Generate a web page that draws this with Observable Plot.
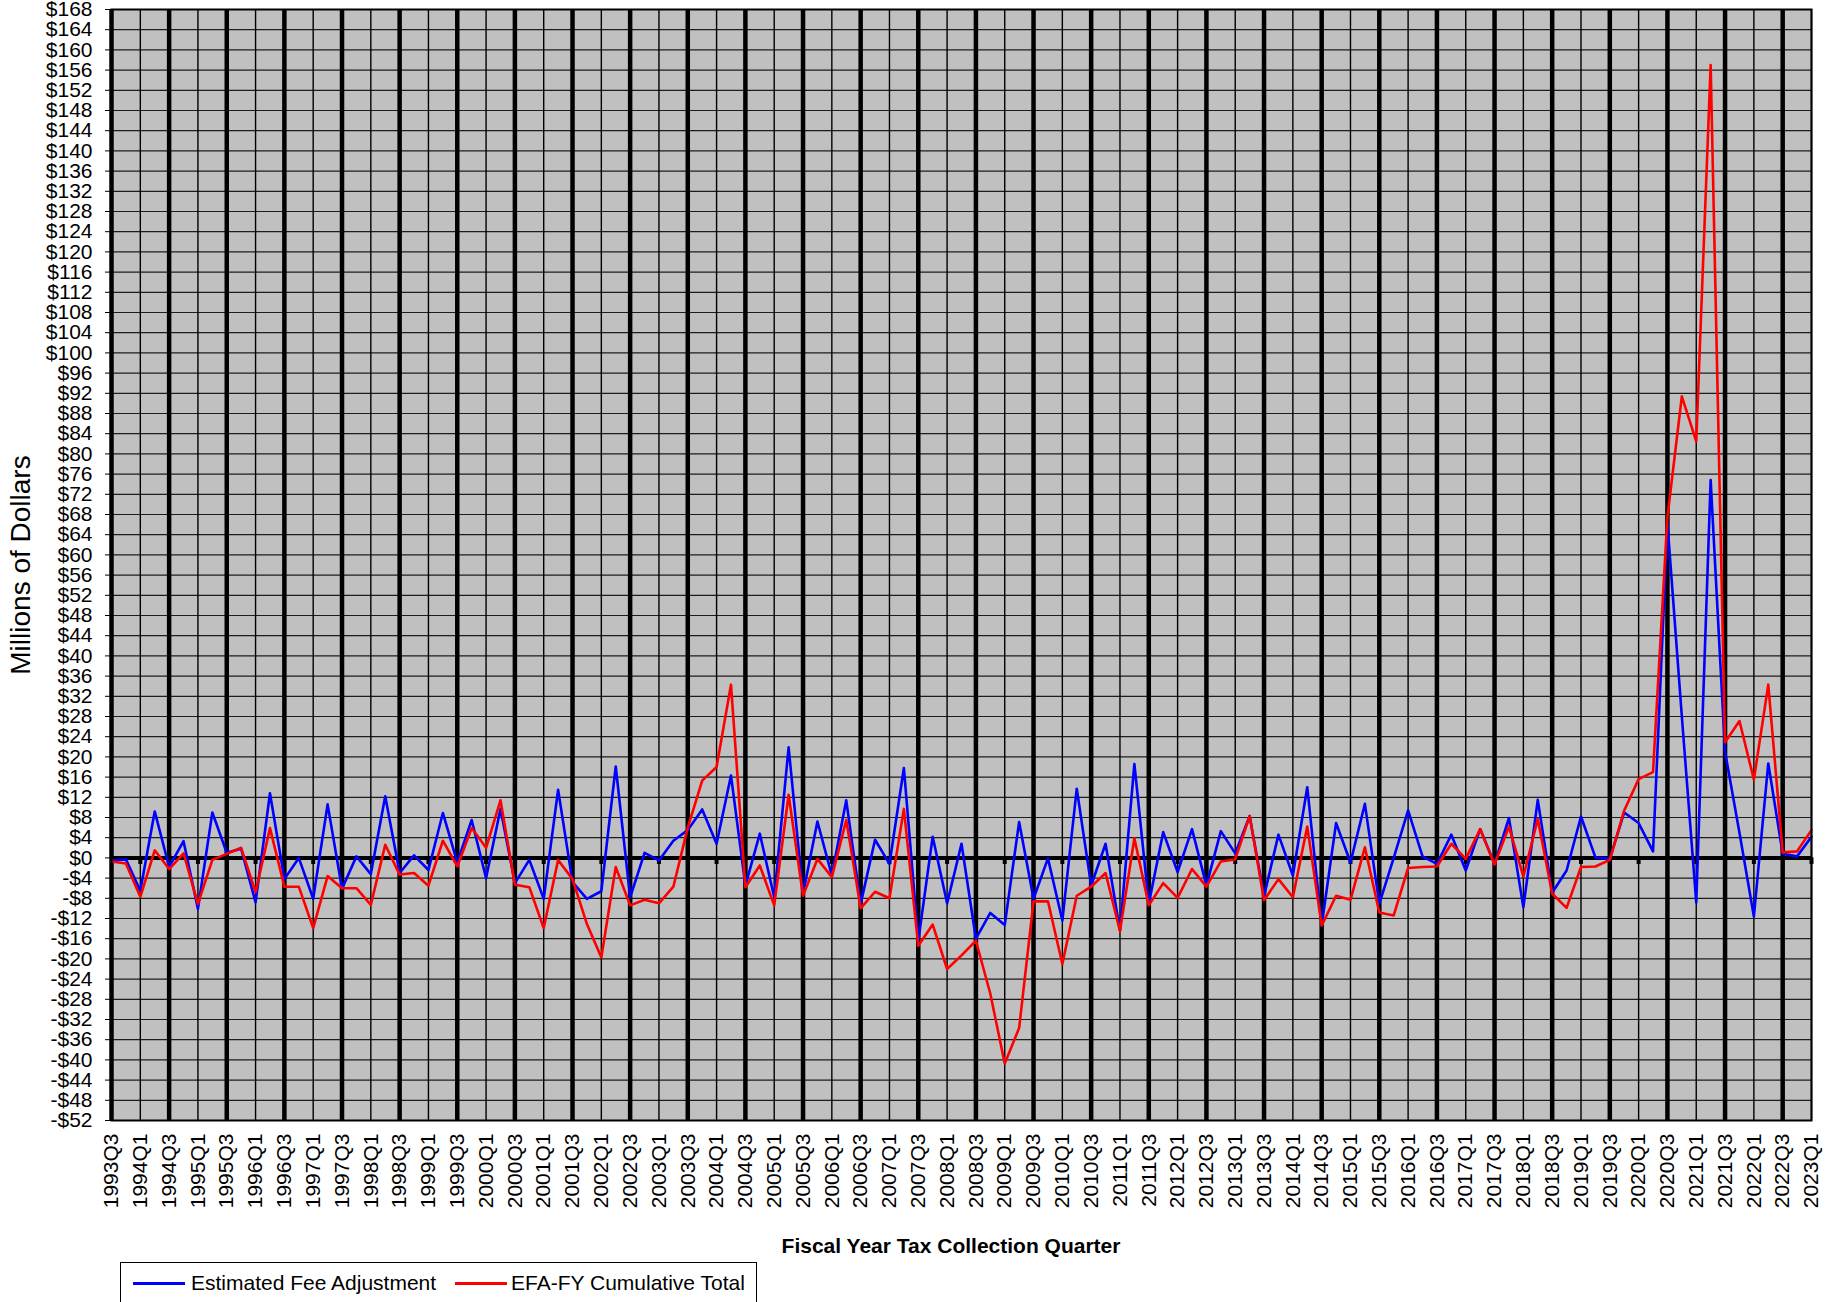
<!DOCTYPE html>
<html>
<head>
<meta charset="utf-8">
<script src="https://cdn.jsdelivr.net/npm/d3@7"></script>
<script src="https://cdn.jsdelivr.net/npm/@observablehq/plot@0.6"></script>
<style>
  body { margin: 0; background: #fff; font-family: "Liberation Sans", Arial, sans-serif; }
  #wrap { position: relative; width: 1841px; height: 1302px; overflow: hidden; background: #fff; }
  #chart { position: absolute; left: 0; top: 0; }
  #xtitle { position: absolute; left: 0; width: 1902px; top: 1233px; line-height: 26px; text-align: center; font-weight: bold; font-size: 21px; color: #000; }
  #legend { position: absolute; left: 120px; top: 1262px; width: 637px; height: 50px; box-sizing: border-box; border: 1px solid #000; background: #fff; }
  .sw { position: absolute; top: 19px; width: 52px; height: 3px; }
  .lt { position: absolute; top: 7px; font-size: 21px; line-height: 26px; color: #000; white-space: nowrap; }
</style>
</head>
<body>
<div id="wrap">
  <div id="chart"></div>
  <div id="xtitle">Fiscal Year Tax Collection Quarter</div>
  <div id="legend">
    <div class="sw" style="left:12px;background:#0000ff"></div>
    <div class="lt" style="left:70px">Estimated Fee Adjustment</div>
    <div class="sw" style="left:334px;background:#ff0000"></div>
    <div class="lt" style="left:390px">EFA-FY Cumulative Total</div>
  </div>
</div>
<script>
const quarters = [
  "1993Q3","1993Q4",
  "1994Q1","1994Q2","1994Q3","1994Q4",
  "1995Q1","1995Q2","1995Q3","1995Q4",
  "1996Q1","1996Q2","1996Q3","1996Q4",
  "1997Q1","1997Q2","1997Q3","1997Q4",
  "1998Q1","1998Q2","1998Q3","1998Q4",
  "1999Q1","1999Q2","1999Q3","1999Q4",
  "2000Q1","2000Q2","2000Q3","2000Q4",
  "2001Q1","2001Q2","2001Q3","2001Q4",
  "2002Q1","2002Q2","2002Q3","2002Q4",
  "2003Q1","2003Q2","2003Q3","2003Q4",
  "2004Q1","2004Q2","2004Q3","2004Q4",
  "2005Q1","2005Q2","2005Q3","2005Q4",
  "2006Q1","2006Q2","2006Q3","2006Q4",
  "2007Q1","2007Q2","2007Q3","2007Q4",
  "2008Q1","2008Q2","2008Q3","2008Q4",
  "2009Q1","2009Q2","2009Q3","2009Q4",
  "2010Q1","2010Q2","2010Q3","2010Q4",
  "2011Q1","2011Q2","2011Q3","2011Q4",
  "2012Q1","2012Q2","2012Q3","2012Q4",
  "2013Q1","2013Q2","2013Q3","2013Q4",
  "2014Q1","2014Q2","2014Q3","2014Q4",
  "2015Q1","2015Q2","2015Q3","2015Q4",
  "2016Q1","2016Q2","2016Q3","2016Q4",
  "2017Q1","2017Q2","2017Q3","2017Q4",
  "2018Q1","2018Q2","2018Q3","2018Q4",
  "2019Q1","2019Q2","2019Q3","2019Q4",
  "2020Q1","2020Q2","2020Q3","2020Q4",
  "2021Q1","2021Q2","2021Q3","2021Q4",
  "2022Q1","2022Q2","2022Q3","2022Q4",
  "2023Q1"
];

// Estimated Fee Adjustment (millions of dollars)
const estimatedFeeAdjustment = [
  -0.5, -0.3,
  -6.5, 9.2, -1.8, 3.3,
  -10.1, 9.0, 1.0, 1.8,
  -8.8, 12.8, -4.2, 0.0,
  -8.1, 10.6, -6.1, 0.3,
  -3.2, 12.2, -3.0, 0.5,
  -2.4, 8.9, -0.9, 7.5,
  -4.0, 9.7, -5.0, -0.4,
  -8.1, 13.5, -4.8, -8.1,
  -6.6, 18.1, -7.8, 1.0,
  -0.5, 3.4, 5.5, 9.6,
  2.8, 16.3, -5.5, 4.8,
  -7.8, 21.9, -7.1, 7.2,
  -3.5, 11.4, -9.1, 3.6,
  -1.2, 17.8, -16.4, 4.2,
  -9.0, 2.8, -16.0, -10.9,
  -13.3, 7.1, -8.1, -0.1,
  -12.4, 13.7, -5.5, 2.8,
  -14.4, 18.6, -9.1, 5.1,
  -2.8, 5.7, -5.5, 5.3,
  0.9, 8.3, -7.6, 4.6,
  -3.5, 14.0, -13.4, 6.9,
  -0.9, 10.7, -9.1, 0.0,
  9.4, 0.3, -1.2, 4.6,
  -2.5, 5.7, -1.2, 7.9,
  -9.8, 11.5, -6.9, -2.5,
  8.2, 0.1, -0.2, 9.0,
  6.9, 1.3, 66.3, 28.0,
  -8.8, 74.8, 21.0, 5.0,
  -11.6, 18.7, 0.8, 0.3,
  4.2
];

// EFA-FY Cumulative Total (millions of dollars)
const efaFyCumulativeTotal = [
  -0.7, -1.1,
  -7.7, 1.5, -2.2, 0.9,
  -9.1, -0.4, 0.8, 2.0,
  -6.8, 5.9, -5.7, -5.7,
  -13.9, -3.6, -6.0, -6.0,
  -9.3, 2.6, -3.3, -3.0,
  -5.5, 3.4, -1.7, 5.9,
  2.0, 11.4, -5.3, -5.8,
  -13.9, -0.4, -4.2, -13.1,
  -19.7, -1.8, -9.4, -8.3,
  -9.0, -5.7, 6.0, 15.3,
  18.0, 34.3, -5.8, -1.5,
  -9.4, 12.5, -7.5, -0.2,
  -3.8, 7.5, -10.0, -6.7,
  -8.0, 9.7, -17.4, -13.2,
  -22.0, -19.3, -16.4, -26.9,
  -40.7, -33.7, -8.6, -8.6,
  -21.0, -7.5, -5.7, -3.0,
  -14.5, 3.9, -9.4, -5.0,
  -7.9, -2.2, -5.7, -0.7,
  -0.3, 8.3, -8.4, -4.2,
  -7.8, 6.2, -13.4, -7.5,
  -8.3, 2.1, -10.8, -11.4,
  -2.0, -1.8, -1.7, 2.8,
  -0.2, 5.7, -1.3, 6.2,
  -3.7, 7.7, -7.1, -9.9,
  -1.8, -1.7, -0.4, 9.4,
  15.6, 17.0, 67.5, 91.4,
  82.5, 157.0, 22.9, 27.1,
  15.5, 34.3, 1.1, 1.3,
  5.5
];

const yTicks = d3.range(-52, 169, 4);
const tickQuarters = quarters.filter(q => q.endsWith("Q1") || q.endsWith("Q3"));
const q3Quarters = quarters.filter(q => q.endsWith("Q3"));
const q1Quarters = quarters.filter(q => q.endsWith("Q1"));

const rows = quarters.map((q, i) => ({q, efa: estimatedFeeAdjustment[i], cum: efaFyCumulativeTotal[i]}));
const fmt = d => (d < 0 ? "-$" : "$") + Math.abs(d);

const chart = Plot.plot({
  width: 1841,
  height: 1225,
  marginLeft: 111,
  marginRight: 30,
  marginTop: 9,
  marginBottom: 105,
  style: {background: "#fff", color: "#000", fontFamily: "'Liberation Sans', Arial, sans-serif", fontSize: "21px", overflow: "visible"},
  x: {type: "point", domain: quarters, padding: 0},
  y: {domain: [-52, 168]},
  marks: [
    Plot.frame({fill: "#c0c0c0"}),
    Plot.ruleY(yTicks, {stroke: "#000", strokeWidth: 1.2, strokeOpacity: 0.85}),
    Plot.ruleX(tickQuarters, {stroke: "#000", strokeWidth: 1.4}),
    Plot.ruleX(q3Quarters, {stroke: "#000", strokeWidth: 4.5}),
    Plot.ruleY([0], {stroke: "#000", strokeWidth: 4}),
    Plot.ruleX(q1Quarters, {y1: 0, y2: -1.3, stroke: "#000", strokeWidth: 4}),
    Plot.line(rows, {x: "q", y: "efa", stroke: "#0000ff", strokeWidth: 2.6}),
    Plot.line(rows, {x: "q", y: "cum", stroke: "#ff0000", strokeWidth: 2.6}),
    Plot.frame({stroke: "#000", strokeWidth: 2}),
    Plot.axisY({ticks: yTicks, tickFormat: fmt, tickSize: 6, tickPadding: 13, fontSize: 21, label: null}),
    Plot.axisX({ticks: tickQuarters, tickRotate: -90, tickSize: 0, tickPadding: 13, fontSize: 21, label: null}),
    Plot.text(["Millions of Dollars"], {frameAnchor: "left", textAnchor: "middle", rotate: -90, dx: -90, fontSize: 28, fill: "#000"})
  ]
});
document.getElementById("chart").appendChild(chart);
</script>
</body>
</html>
